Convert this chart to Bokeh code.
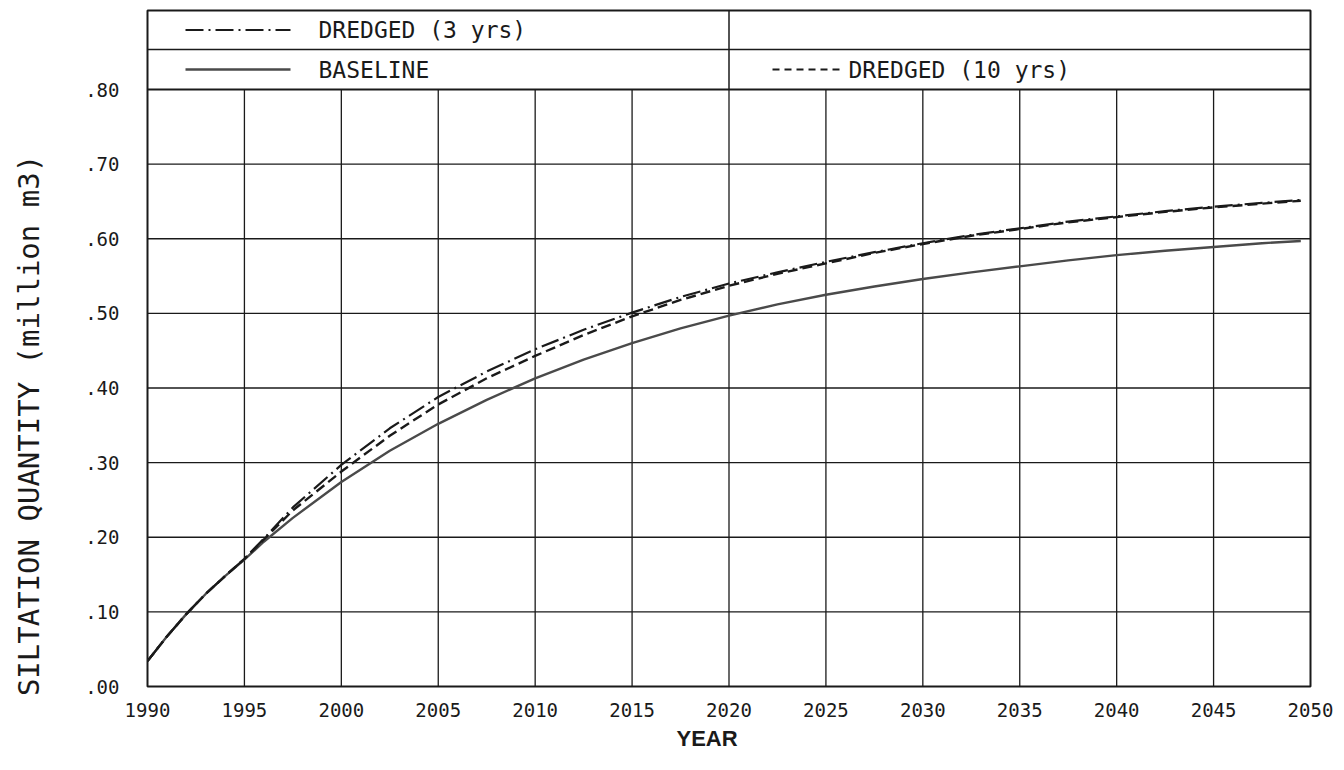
import math
from bokeh.plotting import figure
from bokeh.models import Range1d, FixedTicker, Label, Title
from bokeh.embed import file_html
from bokeh.resources import INLINE

# Siltation quantity (million m3) by year
years = [1990, 1991, 1992, 1993, 1994, 1995, 1996, 1997.5, 2000, 2002.5, 2005, 2007.5,
         2010, 2012.5, 2015, 2017.5, 2020, 2022.5, 2025, 2027.5, 2030, 2032.5, 2035,
         2037.5, 2040, 2042.5, 2045, 2047.5, 2049.5]
baseline = [0.034, 0.067, 0.097, 0.124, 0.148, 0.170, 0.194, 0.226, 0.274, 0.316, 0.352,
            0.384, 0.413, 0.438, 0.460, 0.480, 0.497, 0.512, 0.525, 0.536, 0.546, 0.555,
            0.563, 0.571, 0.578, 0.584, 0.589, 0.594, 0.597]
dredged_3yrs = [0.034, 0.067, 0.097, 0.124, 0.148, 0.171, 0.198, 0.240, 0.297, 0.346, 0.388,
                0.422, 0.452, 0.478, 0.501, 0.522, 0.540, 0.555, 0.569, 0.582, 0.594, 0.605,
                0.614, 0.623, 0.630, 0.637, 0.643, 0.648, 0.652]
dredged_10yrs = [0.034, 0.067, 0.097, 0.124, 0.148, 0.171, 0.197, 0.236, 0.288, 0.336, 0.378,
                 0.413, 0.443, 0.471, 0.496, 0.518, 0.537, 0.553, 0.567, 0.581, 0.593, 0.604,
                 0.613, 0.622, 0.629, 0.636, 0.642, 0.647, 0.651]

x_ticks = list(range(1990, 2051, 5))
y_ticks = [0.0, 0.1, 0.2, 0.3, 0.4, 0.5, 0.6, 0.7, 0.8]
y_tick_labels = [".00", ".10", ".20", ".30", ".40", ".50", ".60", ".70", ".80"]

legend_labels = ["DREDGED (3 yrs)", "BASELINE", "DREDGED (10 yrs)"]

# page / frame geometry (pixels)
W, H = 1344, 770
LEFT, RIGHT, TOP, BOTTOM = 147, 1310, 10, 686
X0, X1 = 1990, 2050
Y0, Y_GRID_TOP = 0.0, 0.80
PX_PER_Y = (BOTTOM - 89) / 0.80
Y1 = Y_GRID_TOP + (89 - TOP) / PX_PER_Y
LEGEND_SPLIT = Y_GRID_TOP + (89 - 49) / PX_PER_Y


def px_x(px):
    return X0 + (px - LEFT) * (X1 - X0) / (RIGHT - LEFT)


def px_y(py):
    return (BOTTOM - py) / PX_PER_Y


MONO = "DejaVu Sans Mono"
INK = "#1a1a1a"
GREY = "#4a4a4a"

p = figure(width=W, height=H, output_backend="svg", toolbar_location=None,
           x_range=Range1d(X0, X1), y_range=Range1d(Y0, Y1),
           min_border_left=LEFT, min_border_right=W - RIGHT,
           min_border_top=TOP, min_border_bottom=H - BOTTOM)
p.background_fill_color = "white"
p.border_fill_color = "white"
p.outline_line_color = INK
p.outline_line_width = 2
p.xgrid.visible = False
p.ygrid.visible = False

for ax in (p.xaxis[0], p.yaxis[0]):
    ax.axis_line_color = None
    ax.major_tick_line_color = None
    ax.minor_tick_line_color = None
    ax.major_label_text_font = MONO
    ax.major_label_text_font_size = "19px"
    ax.major_label_text_color = INK

p.xaxis.ticker = FixedTicker(ticks=x_ticks)
p.xaxis.major_label_standoff = 10
p.yaxis.ticker = FixedTicker(ticks=y_ticks)
p.yaxis.major_label_overrides = {t: s for t, s in zip(y_ticks, y_tick_labels)}
p.yaxis.major_label_standoff = 22

# grid: verticals stop at the legend strip, horizontals span the frame
inner_years = [y for y in x_ticks if X0 < y < X1]
p.segment(x0=inner_years, y0=[Y0] * len(inner_years), x1=inner_years,
          y1=[Y_GRID_TOP] * len(inner_years), line_color=INK, line_width=1.3)
h_levels = [t for t in y_ticks if 0 < t < Y_GRID_TOP]
p.segment(x0=[X0] * len(h_levels), y0=h_levels, x1=[X1] * len(h_levels), y1=h_levels,
          line_color=INK, line_width=1.3)
p.segment(x0=[X0], y0=[Y_GRID_TOP], x1=[X1], y1=[Y_GRID_TOP], line_color=INK, line_width=2)

# legend strip dividers
p.segment(x0=[X0], y0=[LEGEND_SPLIT], x1=[X1], y1=[LEGEND_SPLIT], line_color=INK, line_width=1.5)
p.segment(x0=[2020], y0=[Y_GRID_TOP], x1=[2020], y1=[Y1], line_color=INK, line_width=1.5)

# curves
p.line(years, baseline, line_color=GREY, line_width=2.4)
p.line(years, dredged_10yrs, line_color=INK, line_width=2.4, line_dash="10 5")
p.line(years, dredged_3yrs, line_color=INK, line_width=2.2, line_dash="18 5 2 5")

# legend entries
row_top = px_y(29.5)
row_bot = px_y(69)
p.line([px_x(185), px_x(290)], [row_top, row_top], line_color=INK, line_width=2,
       line_dash="18 5 2 5")
p.line([px_x(185), px_x(290)], [row_bot, row_bot], line_color=GREY, line_width=2.4)
p.line([px_x(772), px_x(843)], [row_bot, row_bot], line_color=INK, line_width=2.2,
       line_dash="7 5")

for text, xp, yv in [(legend_labels[0], 318, row_top), (legend_labels[1], 318, row_bot),
                     (legend_labels[2], 848, row_bot)]:
    p.add_layout(Label(x=px_x(xp), y=yv, text=text, text_font=MONO, text_font_size="23px",
                       text_color=INK, text_align="left", text_baseline="middle"))

# vertical axis title, placed in the left border so it is not clipped to the frame
y_title = Label(x=px_x(28), y=px_y(425), text="SILTATION QUANTITY (million m3)",
                angle=math.pi / 2, text_font=MONO, text_font_size="29px", text_color=INK,
                text_align="center", text_baseline="middle")
p.add_layout(y_title, "left")

x_title = Title(text="YEAR", align="left", offset=676 - LEFT, text_font="Liberation Sans",
                text_font_size="22px", text_font_style="bold", text_color=INK,
                vertical_align="middle")
p.add_layout(x_title, "below")

open("out.html", "w").write(file_html(p, INLINE))
